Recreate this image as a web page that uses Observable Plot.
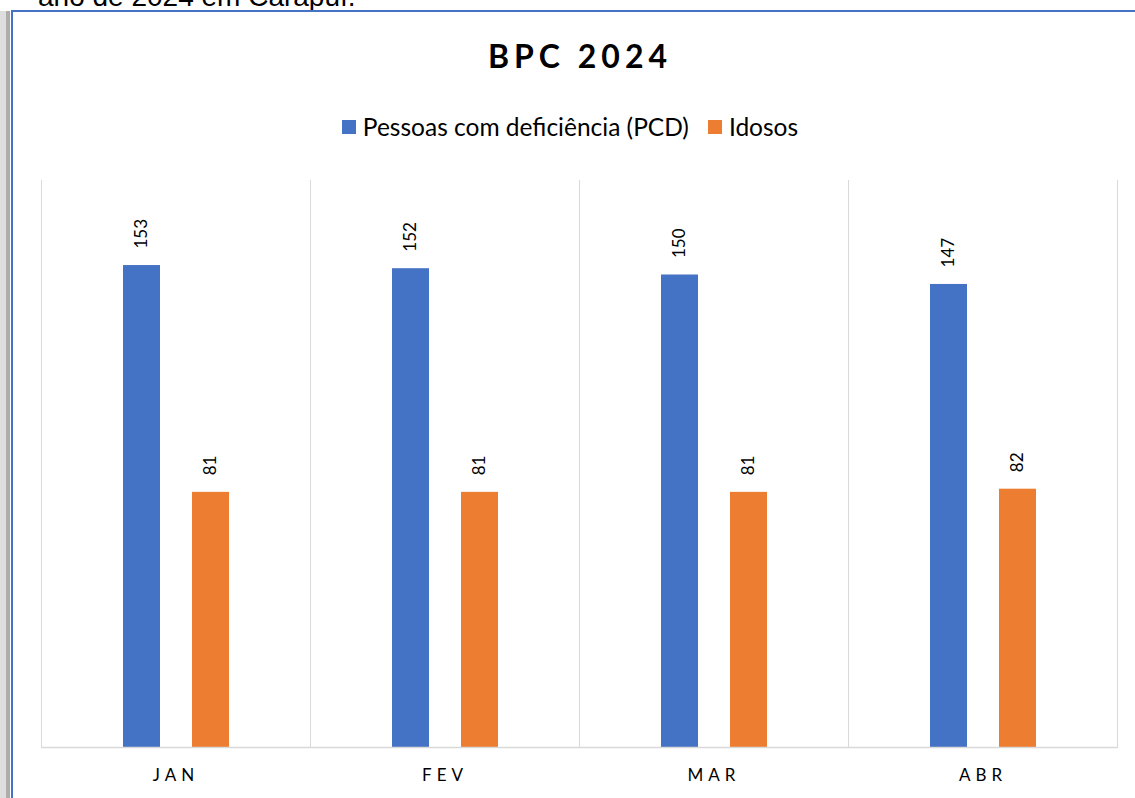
<!DOCTYPE html>
<html>
<head>
<meta charset="utf-8">
<script src="https://cdn.jsdelivr.net/npm/d3@7"></script>
<script src="https://cdn.jsdelivr.net/npm/@observablehq/plot@0.6"></script>
<style>
  html, body { margin: 0; padding: 0; background: #fff; }
  #page { position: relative; width: 1135px; height: 798px; overflow: hidden; background: #fff; font-family: Lato, "Open Sans", sans-serif; }
  #toptext { position: absolute; left: 38px; top: -17px; font-family: "Liberation Sans", Arial, sans-serif; font-size: 28px; color: #000; white-space: nowrap; line-height: 1; }
  #topline { position: absolute; left: 11px; right: 0; top: 10px; height: 2px; background: #4472c4; }
  #strip1 { position: absolute; left: 0; top: 11px; bottom: 0; width: 6px; background: #dedede; }
  #strip2 { position: absolute; left: 6px; top: 11px; bottom: 0; width: 4px; background: #adadad; }
  #strip3 { position: absolute; left: 11px; top: 10px; bottom: 0; width: 2px; background: #4472c4; }
  #title { position: absolute; left: 0; width: 1160px; top: 36px; text-align: center; font-weight: 700; font-size: 32px; letter-spacing: 5px; color: #000; line-height: 40px; }
  #legend { position: absolute; left: 0; width: 1140px; top: 112px; display: flex; justify-content: center; font-size: 24.5px; color: #000; line-height: 30px; }
  .item { display: flex; align-items: center; }
  .sw { width: 14px; height: 14px; margin-right: 7px; }
  #chart { position: absolute; left: 0; top: 0; }
  #chart g[aria-label="fx-axis tick label"] text { letter-spacing: 5px; }
</style>
</head>
<body>
<div id="page">
  <div id="toptext">ano de 2024 em Carapuí.</div>
  <div id="chart"></div>
  <div id="strip1"></div><div id="strip2"></div><div id="strip3"></div>
  <div id="topline"></div>
  <div id="title">BPC 2024</div>
  <div id="legend"></div>
</div>
<script>
const months = ["JAN", "FEV", "MAR", "ABR"];
const series = ["Pessoas com deficiência (PCD)", "Idosos"];
const pcd = [153, 152, 150, 147];
const idosos = [81, 81, 81, 82];
const colors = ["#4472c4", "#ed7d31"];

const rows = [];
months.forEach((m, i) => {
  rows.push({month: m, series: series[0], value: pcd[i]});
  rows.push({month: m, series: series[1], value: idosos[i]});
});

const legend = document.getElementById("legend");
series.forEach((s, i) => {
  const it = document.createElement("div");
  it.className = "item";
  it.style.marginRight = i === 0 ? "19px" : "0";
  const sw = document.createElement("div");
  sw.className = "sw";
  sw.style.background = colors[i];
  const t = document.createElement("span");
  t.textContent = s;
  it.appendChild(sw); it.appendChild(t);
  legend.appendChild(it);
});

const chart = Plot.plot({
  width: 1135,
  height: 798,
  marginTop: 180,
  marginBottom: 51,
  marginLeft: 41,
  marginRight: 18,
  style: {fontFamily: "Lato, 'Open Sans', sans-serif", background: "transparent"},
  fx: {domain: months, padding: 0, label: null},
  x: {domain: series, axis: null, paddingInner: 0.47, paddingOuter: 1.18},
  y: {domain: [0, 180], axis: null},
  color: {domain: series, range: colors},
  marks: [
    Plot.frame({anchor: "left", stroke: "#d9d9d9"}),
    Plot.frame({anchor: "right", stroke: "#d9d9d9"}),
    Plot.barY(rows, {fx: "month", x: "series", y: "value", fill: "series"}),
    Plot.ruleY([0], {stroke: "#d9d9d9", strokeWidth: 1.5}),
    Plot.text(rows, {fx: "month", x: "series", y: "value", text: d => String(d.value),
      rotate: -90, textAnchor: "start", lineAnchor: "middle", dy: -17, fontSize: 17, fill: "#000"}),
    Plot.axisFx({anchor: "bottom", tickSize: 0, tickPadding: 21, fontSize: 17, label: null, color: "#000"})
  ]
});
document.getElementById("chart").appendChild(chart);
</script>
</body>
</html>
